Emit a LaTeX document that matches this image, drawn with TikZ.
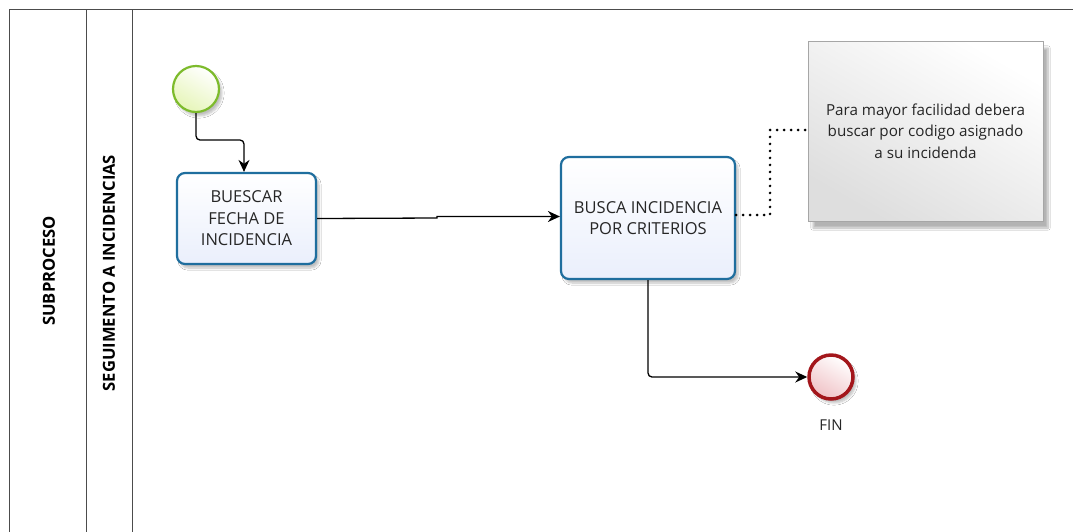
\documentclass[tikz,border=0pt]{standalone}
\usepackage{fontspec}
\setmainfont{Open Sans}
\usetikzlibrary{arrows.meta,shadows.blur}
\definecolor{taskblue}{HTML}{1F6E9E}
\definecolor{taskfill}{HTML}{EAEFFC}
\definecolor{startgreen}{HTML}{7DBB2C}
\definecolor{startfill}{HTML}{E6F5B8}
\definecolor{endred}{HTML}{A3161B}
\definecolor{endfill}{HTML}{F0C2C6}
\tikzset{
  lane/.style={draw=black!70, line width=0.8pt},
  task/.style={draw=taskblue, line width=2.2pt, rounded corners=8pt,
    top color=white, bottom color=taskfill, align=center,
    font=\fontsize{16.5}{21.5}\selectfont, text=black!85,
    blur shadow={shadow xshift=3pt, shadow yshift=-4pt, shadow blur steps=6, shadow opacity=25}},
  startev/.style={circle, draw=startgreen, line width=2.2pt, minimum size=46pt,
    inner sep=0pt, top color=white, bottom color=startfill, shading angle=-30,
    blur shadow={shadow xshift=3pt, shadow yshift=-4pt, shadow blur steps=6, shadow opacity=25}},
  endev/.style={circle, draw=endred, line width=3.5pt, minimum size=44pt,
    inner sep=0pt, top color=white, bottom color=endfill, shading angle=-30,
    blur shadow={shadow xshift=3pt, shadow yshift=-4pt, shadow blur steps=6, shadow opacity=25}},
  note/.style={draw=black!35, line width=0.6pt, top color=white, bottom color=black!13,
    shading angle=-30, align=center, font=\fontsize{15.2}{21.5}\selectfont, text=black!85,
    blur shadow={shadow xshift=5pt, shadow yshift=-7pt, shadow blur steps=8, shadow opacity=30}},
  flow/.style={draw=black, line width=1.3pt, rounded corners=4pt, -{Stealth[length=12pt,width=11pt]}},
  assoc/.style={draw=black, line width=2.8pt, dash pattern=on 0pt off 7pt, line cap=round},
  lanelabel/.style={rotate=90, font=\bfseries\fontsize{16.6}{18}\selectfont, text=black}
}
\begin{document}
\begin{tikzpicture}[x=1pt,y=-1pt]
  \useasboundingbox (0,0) rectangle (1073,531);
  \fill[white] (0,0) rectangle (1073,531);
  % pool and lane frames
  \draw[lane] (9,540) -- (9,9) -- (1073,9);
  \draw[lane] (86,9) -- (86,540);
  \draw[lane] (132,9) -- (132,540);
  \node[lanelabel] (pool) at (49,271) {SUBPROCESO};
  \node[lanelabel] (lanelbl) at (109,273) {SEGUIMENTO A INCIDENCIAS};
  % flow objects
  \node[startev] (start) at (196,89) {};
  \node[task, minimum width=139pt, minimum height=91pt] (t1) at (246.5,218.5) {BUESCAR\\FECHA DE\\INCIDENCIA};
  \node[task, minimum width=174pt, minimum height=122pt] (t2) at (648,218) {BUSCA INCIDENCIA\\POR CRITERIOS};
  \node[endev] (fin) at (831,377) {};
  \node[font=\fontsize{15}{18}\selectfont, text=black!85] (finlbl) at (831,425) {FIN};
  \node[note, minimum width=235pt, minimum height=180pt] (nota) at (925.5,131)
    {Para mayor facilidad debera\\buscar por codigo asignado\\a su incidenda};
  % sequence flows
  \draw[flow] (start.south) |- (244,140) -- (t1.north -| 244,0);
  \draw[flow, rounded corners=0pt] (t1.east) -- (437,218) -- (437,216.5) -- (t2.west |- 0,216.5);
  \draw[flow] (t2.south -| 648,0) |- (fin.west);
  % association to the annotation
  \draw[assoc] (t2.east |- 0,215) -- (770,215) -- (770,130) -- (nota.west |- 0,130);
\end{tikzpicture}
\end{document}
